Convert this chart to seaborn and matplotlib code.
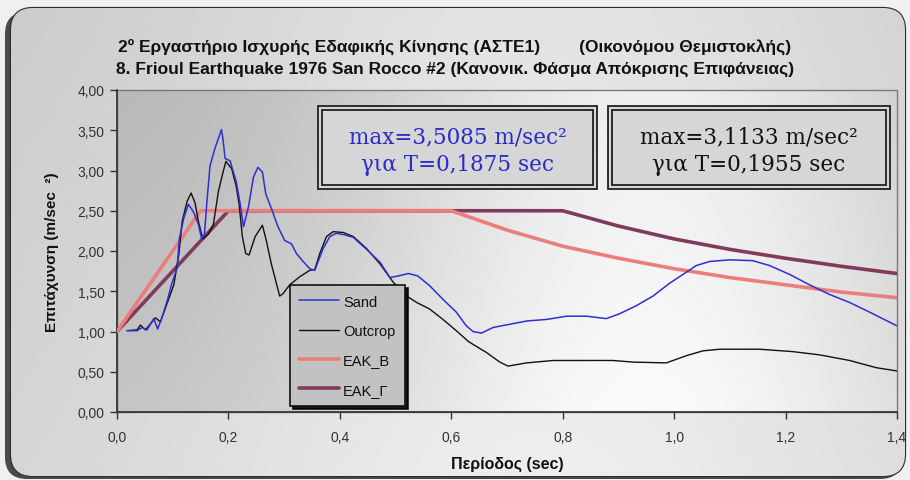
import numpy as np
import pandas as pd
import matplotlib
matplotlib.use("Agg")
import matplotlib.pyplot as plt
import seaborn as sns
from matplotlib.patches import FancyBboxPatch, Rectangle
from matplotlib.ticker import FixedLocator, FuncFormatter

# ---------------- data ----------------
sand_T = [0.018, 0.036, 0.045, 0.054, 0.066, 0.073, 0.081, 0.090, 0.099, 0.108,
          0.112, 0.120, 0.128, 0.137, 0.146, 0.152, 0.157, 0.161, 0.167, 0.176,
          0.1875, 0.190, 0.194, 0.203, 0.214, 0.221, 0.227, 0.236, 0.245, 0.253,
          0.261, 0.267, 0.277, 0.289, 0.301, 0.313, 0.322, 0.334, 0.346, 0.355,
          0.361, 0.370, 0.382, 0.394, 0.409, 0.424, 0.448, 0.472, 0.490, 0.505,
          0.523, 0.540, 0.561, 0.585, 0.609, 0.627, 0.639, 0.654, 0.675, 0.705,
          0.735, 0.771, 0.807, 0.843, 0.878, 0.902, 0.932, 0.962, 0.992, 1.016,
          1.040, 1.064, 1.100, 1.141, 1.171, 1.207, 1.243, 1.279, 1.315, 1.351, 1.400]
sand_A = [1.01, 1.01, 1.05, 1.02, 1.16, 1.03, 1.18, 1.38, 1.61, 1.79,
          2.16, 2.41, 2.58, 2.49, 2.33, 2.15, 2.21, 2.58, 3.06, 3.28,
          3.5085, 3.40, 3.15, 3.12, 2.86, 2.59, 2.30, 2.55, 2.92, 3.04,
          2.98, 2.71, 2.53, 2.30, 2.13, 2.09, 1.97, 1.87, 1.78, 1.76,
          1.87, 2.03, 2.18, 2.22, 2.20, 2.17, 2.02, 1.86, 1.67, 1.69,
          1.72, 1.69, 1.57, 1.40, 1.24, 1.07, 1.00, 0.98, 1.05, 1.09,
          1.13, 1.15, 1.19, 1.19, 1.16, 1.22, 1.32, 1.44, 1.60, 1.71,
          1.82, 1.87, 1.89, 1.88, 1.82, 1.71, 1.58, 1.46, 1.36, 1.24, 1.07]

outcrop_T = [0.018, 0.036, 0.042, 0.051, 0.069, 0.078, 0.090, 0.102, 0.111, 0.117,
             0.126, 0.133, 0.140, 0.146, 0.154, 0.164, 0.173, 0.182, 0.190, 0.1955,
             0.206, 0.214, 0.219, 0.225, 0.231, 0.237, 0.248, 0.261, 0.268, 0.277,
             0.286, 0.292, 0.298, 0.310, 0.328, 0.346, 0.355, 0.364, 0.376, 0.388,
             0.406, 0.424, 0.448, 0.472, 0.496, 0.520, 0.538, 0.561, 0.585, 0.609,
             0.630, 0.639, 0.663, 0.687, 0.702, 0.735, 0.783, 0.830, 0.890, 0.926,
             0.986, 1.022, 1.052, 1.082, 1.153, 1.213, 1.261, 1.315, 1.363, 1.400]
outcrop_A = [1.01, 1.02, 1.08, 1.02, 1.17, 1.12, 1.35, 1.58, 1.96, 2.37,
             2.62, 2.72, 2.60, 2.37, 2.15, 2.21, 2.33, 2.74, 2.97, 3.1133,
             3.02, 2.80, 2.59, 2.18, 1.97, 1.95, 2.18, 2.32, 2.13, 1.84,
             1.60, 1.44, 1.47, 1.58, 1.68, 1.76, 1.77, 1.97, 2.18, 2.24,
             2.23, 2.18, 2.03, 1.84, 1.61, 1.44, 1.36, 1.28, 1.15, 1.01,
             0.88, 0.84, 0.74, 0.62, 0.57, 0.61, 0.64, 0.64, 0.64, 0.62,
             0.61, 0.70, 0.76, 0.78, 0.78, 0.75, 0.71, 0.64, 0.55, 0.51]

eakB_T = [0.0, 0.15, 0.6, 0.7, 0.8, 0.9, 1.0, 1.1, 1.2, 1.3, 1.4]
eakB_A = [1.0, 2.5, 2.5, 2.26, 2.06, 1.91, 1.78, 1.67, 1.58, 1.49, 1.42]
eakG_T = [0.0, 0.2, 0.8, 0.9, 1.0, 1.1, 1.2, 1.3, 1.4]
eakG_A = [1.0, 2.5, 2.5, 2.31, 2.15, 2.02, 1.91, 1.81, 1.72]

series_names = ["Sand", "Outcrop", "ΕΑΚ_Β", "ΕΑΚ_Γ"]
x_ticks = [0.0, 0.2, 0.4, 0.6, 0.8, 1.0, 1.2, 1.4]
y_ticks = [0.0, 0.5, 1.0, 1.5, 2.0, 2.5, 3.0, 3.5, 4.0]

title1 = "2º Εργαστήριο Ισχυρής Εδαφικής Κίνησης (ΑΣΤΕ1)        (Οικονόμου Θεμιστοκλής)"
title2 = "8. Frioul Earthquake 1976 San Rocco #2 (Κανονικ. Φάσμα Απόκρισης Επιφάνειας)"
box1_text = "max=3,5085 m/sec²\nγια T=0,1875 sec"
box2_text = "max=3,1133 m/sec²\nγια T=0,1955 sec"

# ---------------- figure ----------------
sns.set_theme(style="white")
plt.rcParams['font.family'] = ['Liberation Sans', 'DejaVu Sans']
W, H = 910, 481
fig = plt.figure(figsize=(W / 100, H / 100), dpi=100)
fig.patch.set_facecolor('#f0f0f0')

bg = fig.add_axes([0, 0, 1, 1], zorder=-10)
bg.set_xlim(0, W)
bg.set_ylim(H, 0)
bg.axis('off')

# frame shadow and frame
shadow = FancyBboxPatch((5, 13), 897, 467, boxstyle="round,pad=0,rounding_size=22",
                        facecolor='#4a4a4a', edgecolor='none')
bg.add_patch(shadow)
frame = FancyBboxPatch((11, 9), 894, 468, boxstyle="round,pad=0,rounding_size=22",
                       facecolor='#d2d2d2', edgecolor='#2e2e2e', lw=1.6)
bg.add_patch(frame)
gx = np.linspace(0, 1, 300)
gy = np.linspace(0, 1, 160)
GX, GY = np.meshgrid(gx, gy)
fr = 0.78 + 0.11 * np.exp(-((GX - 0.6) / 0.45) ** 2) + 0.04 * GY
img = bg.imshow(fr, cmap='gray', vmin=0, vmax=1, extent=(11, 905, 477, 9),
                aspect='auto', zorder=1, interpolation='bilinear')
img.set_clip_path(frame)

# plot-area gradient
pa = 0.71 + 0.22 * np.exp(-((GX - 0.68) / 0.40) ** 2) + 0.05 * GY
bg.imshow(pa, cmap='gray', vmin=0, vmax=1, extent=(117, 897, 413, 91),
          aspect='auto', zorder=2, interpolation='bilinear')
bg.add_patch(Rectangle((117, 91), 780, 322, fill=False, edgecolor='#7a7a7a', lw=1, zorder=3))

# annotation boxes (double border)
for (x0, x1, txt, col) in [(318, 597, box1_text, '#2b2bc8'), (608, 890, box2_text, '#111111')]:
    bg.add_patch(Rectangle((x0, 107), x1 - x0, 83, facecolor='#d6d6d6',
                           edgecolor='#202020', lw=1.3, zorder=4))
    bg.add_patch(Rectangle((x0 + 4, 111), x1 - x0 - 8, 75, fill=False,
                           edgecolor='#202020', lw=1.3, zorder=4))
    bg.text((x0 + x1) / 2, 151, txt, ha='center', va='center', color=col,
            fontsize=15.5, family=['DejaVu Serif'], linespacing=1.3, zorder=5)

# titles
tfam = ['Liberation Sans', 'DejaVu Sans']
bg.text(455, 47, title1, ha='center', va='center', fontsize=12.5, fontweight='bold',
        family=tfam, color='#111111', zorder=5)
bg.text(455, 69, title2, ha='center', va='center', fontsize=12.5, fontweight='bold',
        family=tfam, color='#111111', zorder=5)

# ---------------- main axes ----------------
ax = fig.add_axes([117 / W, 1 - 413 / H, 780 / W, 322 / H], zorder=1)
ax.patch.set_alpha(0)

sns.lineplot(x=eakG_T, y=eakG_A, ax=ax, color='#823a5c', lw=2.6, label=series_names[3],
             sort=False, estimator=None, zorder=2)
sns.lineplot(x=eakB_T, y=eakB_A, ax=ax, color='#ec7d7d', lw=2.6, label=series_names[2],
             sort=False, estimator=None, zorder=3)
sns.lineplot(x=outcrop_T, y=outcrop_A, ax=ax, color='#111111', lw=1.0, label=series_names[1],
             sort=False, estimator=None, zorder=4)
sns.lineplot(x=sand_T, y=sand_A, ax=ax, color='#2f2fd0', lw=1.1, label=series_names[0],
             sort=False, estimator=None, zorder=5)

ax.set_xlim(0, 1.4)
ax.set_ylim(0, 4)
ax.xaxis.set_major_locator(FixedLocator(x_ticks))
ax.yaxis.set_major_locator(FixedLocator(y_ticks))
ax.xaxis.set_major_formatter(FuncFormatter(lambda v, p: f"{v:.1f}".replace('.', ',')))
ax.yaxis.set_major_formatter(FuncFormatter(lambda v, p: f"{v:.2f}".replace('.', ',')))
ax.tick_params(axis='both', direction='out', length=5, width=1, color='#333333',
               labelsize=10, labelcolor='#333333')
ax.tick_params(axis='x', pad=8)
ax.tick_params(axis='y', pad=4)
ax.tick_params(bottom=True, left=True)
for s in ['top', 'right']:
    ax.spines[s].set_visible(False)
ax.spines['left'].set_color('#333333')
ax.spines['bottom'].set_color('#333333')

ax.set_xlabel("Περίοδος (sec)", fontsize=11.5, fontweight='bold', family=tfam, color='#111111')
ax.set_ylabel("Επιτάχυνση (m/sec  ²)", fontsize=11, fontweight='bold', color='#111111')
ax.xaxis.set_label_coords(0.5, (413 - 464) / 322)
ax.xaxis.label.set_va('center')
ax.yaxis.set_label_coords((52 - 117) / 780, 0.5)
ax.yaxis.label.set_va('center')

handles, labels = ax.get_legend_handles_labels()
order = [labels.index(n) for n in series_names]
leg = ax.legend([handles[i] for i in order], [labels[i] for i in order],
                loc='lower left', bbox_to_anchor=(290 / W, 1 - 407 / H),
                bbox_transform=fig.transFigure, borderaxespad=0, frameon=True,
                fancybox=False, shadow={'color': 'black', 'alpha': 0.9}, fontsize=10.5,
                handlelength=2.7, handletextpad=0.3, labelspacing=1.05, borderpad=0.65)
leg.get_frame().set_facecolor('#c2c2c2')
leg.get_frame().set_edgecolor('#111111')
leg.get_frame().set_linewidth(1.2)
leg.get_frame().set_alpha(1)
for t in leg.get_texts():
    t.set_color('#111111')

fig.savefig("out.png", dpi=100)
